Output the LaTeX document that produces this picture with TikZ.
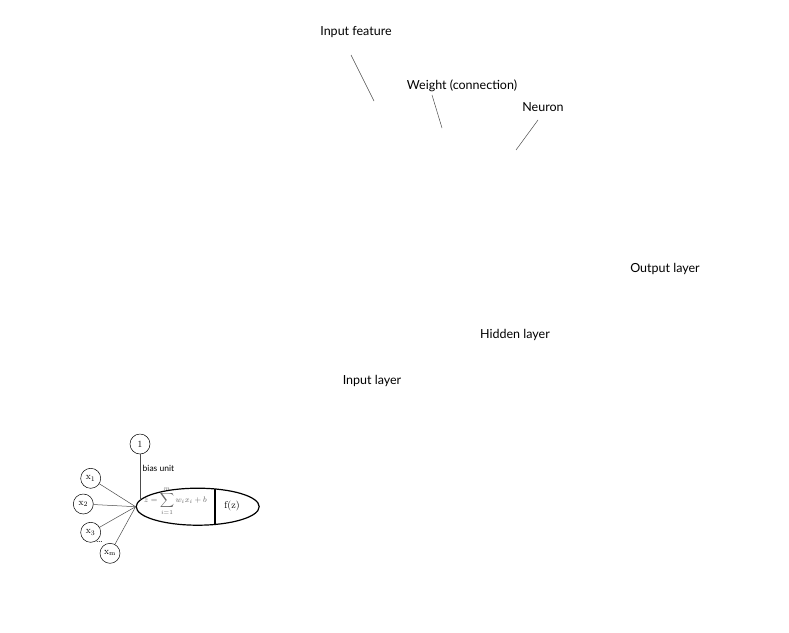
\documentclass[tikz,border=0pt]{standalone}
\usepackage{fontspec}
\setsansfont{Lato}
\usetikzlibrary{shapes.geometric,calc}
\begin{document}
\begin{tikzpicture}[x=1pt,y=-1pt,
  lbl/.style={font=\sffamily\fontsize{12.5}{14}\selectfont, inner sep=0pt},
  ptr/.style={draw=black!70, line width=0.5pt},
  unit/.style={circle, draw, line width=0.5pt, minimum size=20pt, inner sep=0pt, font=\fontsize{9.5}{10}\selectfont},
  wire/.style={draw=black!70, line width=0.5pt}]
\useasboundingbox (0,0) rectangle (789,632);
% labels with pointer lines
\node[lbl] (inf) at (356,32) {Input feature};
\coordinate (infa) at (351,55); \coordinate (infb) at (374,101);
\draw[ptr] (infa) -- (infb);
\node[lbl] (wgt) at (462,86) {Weight (connection)};
\coordinate (wa) at (432,95); \coordinate (wb) at (442,128);
\draw[ptr] (wa) -- (wb);
\node[lbl] (neu) at (543,107) {Neuron};
\coordinate (na) at (538,120); \coordinate (nb) at (516,150);
\draw[ptr] (na) -- (nb);
\node[lbl] (outl) at (665,269) {Output layer};
\node[lbl] (hidl) at (515,335) {Hidden layer};
\node[lbl] (inl) at (372,381) {Input layer};
% single neuron
\node[ellipse, draw, line width=1.2pt, minimum width=123pt, minimum height=37pt, inner sep=0pt] (ell) at (197.7,506.7) {};
\path (ell.center) ++(17.3,0) coordinate (dmid);
\draw[line width=1.2pt] ($(dmid)+(0,-17.5)$) coordinate (d1) -- ($(dmid)+(0,17.5)$) coordinate (d2);
\node[text=black!60, inner sep=0pt, font=\fontsize{8.5}{9}\selectfont] (fx) at (175.5,501) {$\displaystyle z=\sum_{i=1}^{m} w_i x_i + b$};
\node[inner sep=0pt, font=\fontsize{10}{11}\selectfont] (fz) at (232,506) {f(z)};
\node[unit] (one) at (140,444) {1};
\node[unit] (x1) at (90.7,478.3) {$\mathrm{x}_1$};
\node[unit] (x2) at (83.3,504) {$\mathrm{x}_2$};
\node[unit] (x3) at (90.7,532.3) {$\mathrm{x}_3$};
\node[unit] (xm) at (110,553.3) {$\mathrm{x}_\mathrm{m}$};
\node[inner sep=0pt, font=\fontsize{11}{11}\selectfont] (dots) at (99.5,542) {\ldots};
\node[anchor=west, inner sep=0pt, font=\sffamily\fontsize{8.5}{9}\selectfont] (bias) at (142.5,468) {bias unit};
\coordinate (hub) at (ell.west);
\draw[wire] (one) -- (one |- ell.173);
\draw[wire] (x1) -- (hub);
\draw[wire] (x2) -- (hub);
\draw[wire] (x3) -- (hub);
\draw[wire] (xm) -- (hub);
\end{tikzpicture}
\end{document}
